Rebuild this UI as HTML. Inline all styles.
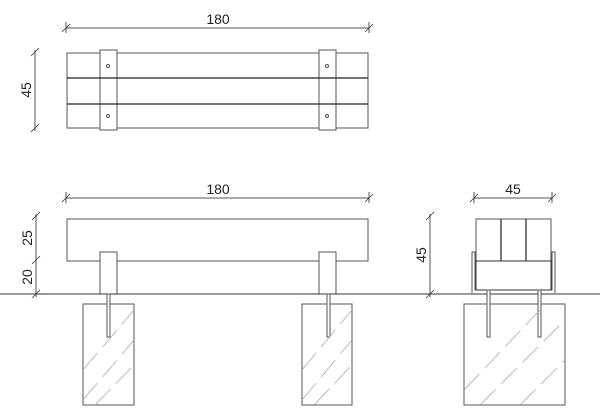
<!DOCTYPE html>
<html><head><style>body{margin:0;background:#fff}svg{display:block}</style></head><body>
<svg width="600" height="417" xmlns="http://www.w3.org/2000/svg" font-family="Liberation Sans, sans-serif">
<defs>
<clipPath id="c1"><rect x="83" y="304" width="51" height="101"/></clipPath>
<clipPath id="c2"><rect x="302" y="304" width="50" height="101"/></clipPath>
<clipPath id="c3"><rect x="464" y="304" width="101" height="101"/></clipPath>
<g id="tk"><line x1="-4" y1="4" x2="4" y2="-4" stroke="#333" stroke-width="0.8"/></g>
</defs>
<g fill="none" stroke="#555" stroke-width="1">
<!-- top view -->
<line x1="66" y1="28" x2="369" y2="28"/>
<line x1="66" y1="22" x2="66" y2="33"/><line x1="369" y1="22" x2="369" y2="33"/>
<rect x="67" y="53" width="301" height="75"/>
<rect x="100" y="50" width="17" height="80" fill="#fff"/>
<rect x="319" y="50" width="17" height="80" fill="#fff"/>
<line x1="67" y1="78" x2="368" y2="78" stroke="#222" stroke-width="1.3"/>
<line x1="67" y1="104" x2="368" y2="104" stroke="#222" stroke-width="1.3"/>
<circle cx="108" cy="66" r="1.5"/><circle cx="108" cy="116" r="1.5"/>
<circle cx="327" cy="66" r="1.5"/><circle cx="327" cy="116" r="1.5"/>
<line x1="35" y1="50" x2="35" y2="131"/>
<!-- side view -->
<line x1="66" y1="198" x2="369" y2="198"/>
<line x1="66" y1="192" x2="66" y2="203"/><line x1="369" y1="192" x2="369" y2="203"/>
<rect x="67" y="219" width="301" height="42"/>
<rect x="100" y="252" width="17" height="42" fill="#fff"/>
<rect x="319" y="252" width="17" height="42" fill="#fff"/>
<line x1="0" y1="294" x2="600" y2="294" stroke="#333"/>
<line x1="36" y1="214" x2="36" y2="297"/>
<rect x="83" y="304" width="51" height="101"/>
<rect x="302" y="304" width="50" height="101"/>
<rect x="107" y="294" width="3" height="43" fill="#fff"/>
<rect x="327" y="294" width="3" height="43" fill="#fff"/>
<!-- end view -->
<line x1="474" y1="198" x2="552" y2="198"/>
<line x1="474" y1="192" x2="474" y2="203"/><line x1="552" y1="192" x2="552" y2="203"/>
<rect x="476" y="219" width="75" height="42"/>
<line x1="501" y1="219" x2="501" y2="261" stroke="#333" stroke-width="1.3"/>
<line x1="526" y1="219" x2="526" y2="261" stroke="#333" stroke-width="1.3"/>
<path d="M472 293 V252 H475 V290 H552 V252 H555 V293"/>
<rect x="476" y="261" width="75" height="29" stroke="#333"/>
<line x1="430" y1="214" x2="430" y2="297"/>
<rect x="464" y="304" width="101" height="101"/>
<rect x="487" y="290" width="3" height="47" fill="#fff"/>
<rect x="538" y="290" width="3" height="47" fill="#fff"/>
</g>
<g stroke="#aaa" stroke-width="0.8" stroke-dasharray="22 8">
<g clip-path="url(#c1)"><line x1="83" y1="400" x2="134" y2="340"/><line x1="83" y1="370" x2="134" y2="310"/><line x1="95" y1="405" x2="134" y2="365"/></g>
<g clip-path="url(#c2)"><line x1="302" y1="400" x2="352" y2="340"/><line x1="302" y1="370" x2="352" y2="310"/><line x1="314" y1="405" x2="352" y2="365"/></g>
<g clip-path="url(#c3)"><line x1="464" y1="390" x2="540" y2="310"/><line x1="480" y1="405" x2="565" y2="320"/><line x1="520" y1="405" x2="565" y2="360"/></g>
</g>
<g>
<use href="#tk" x="66" y="28"/><use href="#tk" x="369" y="28"/>
<use href="#tk" x="35" y="52"/><use href="#tk" x="35" y="128"/>
<use href="#tk" x="66" y="198"/><use href="#tk" x="369" y="198"/>
<use href="#tk" x="36" y="216"/><use href="#tk" x="36" y="260"/><use href="#tk" x="36" y="294"/>
<use href="#tk" x="474" y="198"/><use href="#tk" x="552" y="198"/>
<use href="#tk" x="430" y="216"/><use href="#tk" x="430" y="294"/>
</g>
<g font-size="14" fill="#222" text-anchor="middle">
<text x="218" y="24">180</text>
<text x="218" y="194">180</text>
<text x="513" y="194">45</text>
<text transform="translate(31,90) rotate(-90)">45</text>
<text transform="translate(32,238) rotate(-90)">25</text>
<text transform="translate(32,277) rotate(-90)">20</text>
<text transform="translate(426,255) rotate(-90)">45</text>
</g>
</svg>
</body></html>
